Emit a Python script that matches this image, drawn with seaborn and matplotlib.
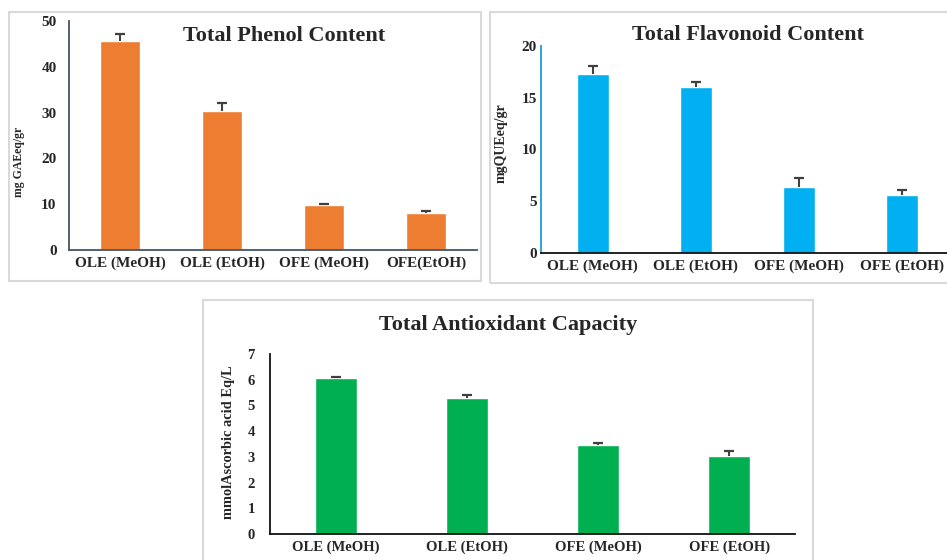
import numpy as np
import pandas as pd
import seaborn as sns
import matplotlib.pyplot as plt
from matplotlib.patches import Rectangle

# dados
cat_fenol = ['OLE (MeOH)', 'OLE (EtOH)', 'OFE (MeOH)', 'OFE(EtOH)']
cat_outros = ['OLE (MeOH)', 'OLE (EtOH)', 'OFE (MeOH)', 'OFE (EtOH)']

fenol = [45.6, 30.4, 9.75, 8.15]
fenol_err = [1.5, 1.7, 0.35, 0.35]

flavonoide = [17.3, 16.05, 6.4, 5.6]
flavonoide_err = [0.75, 0.45, 0.85, 0.45]

antioxidante = [6.05, 5.3, 3.45, 3.02]
antioxidante_err = [0.05, 0.1, 0.1, 0.2]

sns.set_style('white')
plt.rcParams['font.family'] = ['Liberation Serif', 'DejaVu Serif']
plt.rcParams['font.weight'] = 'bold'

W, H = 947, 560
fig = plt.figure(figsize=(W / 100, H / 100), dpi=100)


def px(x0, y0, x1, y1):
    # converte pixels (topo-esquerda) em fracao da figura
    return [x0 / W, 1 - y1 / H, (x1 - x0) / W, (y1 - y0) / H]


# molduras cinza claro
for caixa in [(9, 12, 481, 281), (490, 12, 965, 283), (203, 300, 813, 575)]:
    r = px(*caixa)
    fig.patches.append(Rectangle((r[0], r[1]), r[2], r[3], transform=fig.transFigure,
                                 fill=False, edgecolor='#d9d9d9', linewidth=1.5))


def painel(pos, cats, vals, errs, cor, largura, ymax, passo, ylabel, lab_size, tick_size,
           spine_l, spine_b, ypad, lab_xy, titulo, tit_xy):
    ax = fig.add_axes(px(*pos))
    df = pd.DataFrame({'cat': cats, 'val': vals})
    sns.barplot(data=df, x='cat', y='val', color=cor, saturation=1, width=largura,
                errorbar=None, ax=ax)
    # so a parte de cima da barra de erro (como no Excel)
    x = np.arange(len(vals))
    topo = np.array(vals) + np.array(errs)
    ax.vlines(x, vals, topo, color='#404040', linewidth=1.5)
    ax.plot(x, topo, linestyle='none', marker='_', markersize=7, mew=1.6, color='#404040')
    ax.set_xlim(-0.5, 3.5)
    ax.set_ylim(0, ymax)
    ax.set_yticks(np.arange(0, ymax + 0.01, passo))
    ax.set_xlabel('')
    ax.set_ylabel(ylabel, fontsize=lab_size, fontweight='bold')
    ax.yaxis.set_label_coords(*lab_xy)
    ax.tick_params(axis='x', length=0, pad=5, labelsize=tick_size)
    ax.tick_params(axis='y', length=0, pad=ypad, labelsize=tick_size)
    for t in ax.get_xticklabels() + ax.get_yticklabels():
        t.set_fontweight('bold')
    for s in ['top', 'right']:
        ax.spines[s].set_visible(False)
    ax.spines['left'].set_color(spine_l)
    ax.spines['bottom'].set_color(spine_b)
    ax.spines['left'].set_linewidth(1.3)
    ax.spines['bottom'].set_linewidth(1.3)
    ax.patch.set_alpha(0)
    fig.text(tit_xy[0] / W, 1 - tit_xy[1] / H, titulo, ha='center', va='center',
             fontsize=16, fontweight='bold')
    return ax


painel((69, 21, 477, 250), cat_fenol, fenol, fenol_err, '#ED7D31', 0.39, 50, 10,
       'mg GAEeq/gr', 8.5, 11, '#44546A', '#44546A', 9, (-0.108, 0.385),
       'Total Phenol Content', (284, 36))

painel((541, 46, 954, 253), cat_outros, flavonoide, flavonoide_err, '#00B0F0', 0.31, 20, 5,
       'mgQUEeq/gr', 10, 11, '#1F9BD7', '#111111', 3, (-0.082, 0.53),
       'Total Flavonoid Content', (748, 35))

painel((270, 354, 795, 534), cat_outros, antioxidante, antioxidante_err, '#00B050', 0.32, 7, 1,
       'mmolAscorbic acid Eq/L', 10.4, 10.5, '#111111', '#111111', 11, (-0.067, 0.51),
       'Total Antioxidant Capacity', (508, 325))

plt.savefig('out.png', dpi=100)
